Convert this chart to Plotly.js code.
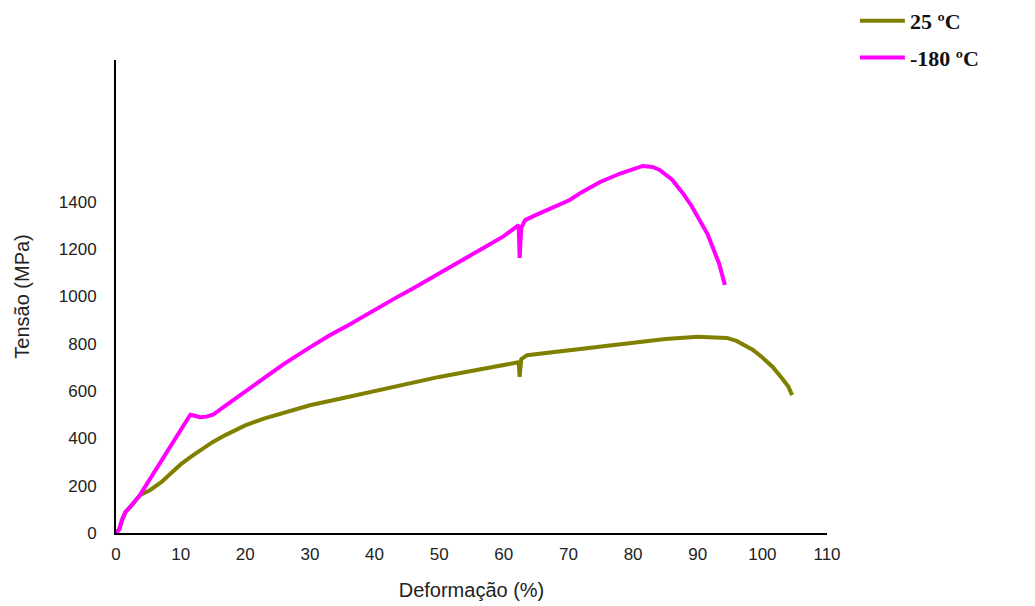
<!DOCTYPE html>
<html>
<head>
<meta charset="utf-8">
<script src="https://cdn.plot.ly/plotly-3.0.1.min.js"></script>
<style>html,body{margin:0;padding:0;background:#fff;}#chart{width:1035px;height:606px;}</style>
</head>
<body>
<div id="chart"></div>
<script>
// Data (strain %, stress MPa)
const seriesNames = ["25 ºC", "-180 ºC"];

const strain25 = [0,0.5,1,1.5,2.2,3,3.7,5.3,7,8,10,12,13,15,17,20,23,26,30,35,40,45,50,56,60,62.3,62.45,62.7,63.6,66,70,75,80,85,90,94.5,96,98.5,100,101.6,103,104,104.6];
const stress25 = [0,15,60,90,110,135,160,182,215,240,290,330,350,385,415,455,485,510,540,570,600,630,660,690,710,722,660,735,752,760,772,790,805,820,830,825,812,775,742,702,655,620,583];

const strain180 = [0,0.5,1,1.5,2.2,3,3.7,5,7,9,10,11,11.5,12,13,14,15,17,20.7,23,26,30,33,36,40,43,46,50,53,56.3,60,62.3,62.45,62.7,63.3,65,67,70.2,72,74.9,78,80,81.5,83,84.1,86,87.7,89,90.3,91.5,92.3,93.3,94.2];
const stress180 = [0,15,60,90,110,135,160,217,305,395,440,483,500,497,490,492,500,540,612,655,715,785,835,880,945,990,1035,1100,1145,1197,1255,1302,1163,1290,1323,1345,1370,1408,1440,1484,1520,1538,1552,1548,1535,1495,1437,1385,1323,1265,1209,1140,1049];

const xTicks = [0,10,20,30,40,50,60,70,80,90,100,110];
const yTicks = [0,200,400,600,800,1000,1200,1400];

const traces = [
  {x: strain25, y: stress25, name: "<b>" + seriesNames[0] + "</b>", type: "scatter", mode: "lines",
   line: {color: "#808000", width: 4}, legendgroup: "a"},
  {x: strain180, y: stress180, name: "<b>" + seriesNames[1] + "</b>", type: "scatter", mode: "lines",
   line: {color: "#ff00ff", width: 4}, legendgroup: "b"}
];

const layout = {
  width: 1035, height: 606,
  margin: {l: 116, r: 208, t: 60, b: 73},
  paper_bgcolor: "#fff", plot_bgcolor: "#fff",
  font: {family: "Liberation Sans, Arial, sans-serif", size: 17, color: "#222"},
  showlegend: true,
  legend: {xref: "container", yref: "container", x: 0.826, y: 1.009, xanchor: "left", yanchor: "top",
           font: {family: "Liberation Serif, Times New Roman, serif", size: 22, color: "#111"},
           traceorder: "grouped", tracegroupgap: 5, itemwidth: 45, bgcolor: "rgba(0,0,0,0)"},
  xaxis: {range: [0, 110], tickvals: xTicks, ticktext: xTicks.map(String), showgrid: false, zeroline: false,
          showline: true, linecolor: "#000", linewidth: 2, ticks: "", ticklabelstandoff: 5,
          title: {text: "Deformação (%)", font: {size: 20, color: "#222"}, standoff: 20}},
  yaxis: {range: [0, 2000], tickvals: yTicks, ticktext: yTicks.map(String), showgrid: false, zeroline: false,
          showline: true, linecolor: "#000", linewidth: 2, ticks: "", ticklabelstandoff: 14,
          title: {text: "Tensão (MPa)", font: {size: 20, color: "#222"}, standoff: 24}}
};

Plotly.newPlot("chart", traces, layout, {displayModeBar: false, staticPlot: true});
</script>
</body>
</html>
